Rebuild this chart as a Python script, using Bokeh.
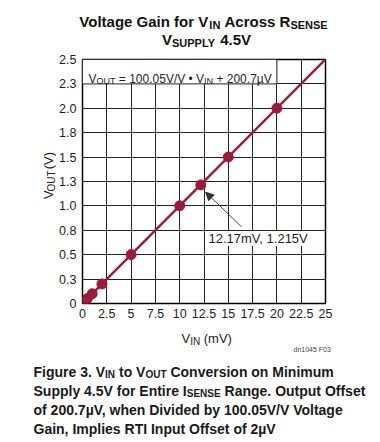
from math import pi
from bokeh.plotting import figure
from bokeh.layouts import column, row
from bokeh.models import Range1d, FixedTicker, Arrow, NormalHead
from bokeh.core.properties import value
from bokeh.embed import file_html
from bokeh.resources import INLINE

# ---------------- data ----------------
vin_mv = [0.1, 0.5, 1.0, 2.0, 5.0, 10.0, 12.17, 15.0, 20.0]
vout_v = [0.010, 0.050, 0.100, 0.200, 0.501, 1.001, 1.215, 1.501, 2.001]
fit_vin = [0.0, 25.0]
fit_vout = [0.0002, 2.5015]
x_ticks = [0, 2.5, 5, 7.5, 10, 12.5, 15, 17.5, 20, 22.5, 25]
x_tick_labels = ["0", "2.5", "5", "7.5", "10", "12.5", "15", "17.5", "20", "22.5", "25"]
y_ticks = [0, 0.25, 0.5, 0.75, 1.0, 1.25, 1.5, 1.75, 2.0, 2.25, 2.5]
y_tick_labels = ["0", "0.3", "0.5", "0.8", "1.0", "1.3", "1.5", "1.8", "2.0", "2.3", "2.5"]
highlight_vin = 12.17
highlight_vout = 1.215
eq_box_vin = [0, 20]
eq_box_vout = [2.25, 2.5]

RED = "#9b1b3b"
INK = "#1e1e1e"
FONT = "Liberation Sans"
NBSP = "\u00a0"

# page geometry (pixels)
PAGE_W, PAGE_H = 380, 442
TITLE_H = 48
MID_H = 278
YLAB_W = 56
FL, FT, FW, FH = 82.0, 59.0, 243.0, 244.0   # frame in page pixels
XMAX, YMAX = 25.0, 2.5

# Helvetica / Arial advance widths (per 1000 em)
REG = {' ': 278, NBSP: 278, '(': 333, ')': 333, '+': 584, ',': 278, '.': 278, '/': 278,
       '=': 584, '•': 350, 'µ': 556}
BOLD = {' ': 278, NBSP: 278, '(': 333, ')': 333, ',': 278, '.': 278, '/': 278, 'µ': 611}
for d in "0123456789":
    REG[d] = 556
    BOLD[d] = 556
REG.update(dict(zip("ABCDEFGHIJKLMNOPQRSTUVWXYZ",
                    [667, 667, 722, 722, 667, 611, 778, 722, 278, 500, 667, 556, 833, 722, 778,
                     667, 778, 722, 667, 611, 722, 667, 944, 667, 667, 611])))
REG.update(dict(zip("abcdefghijklmnopqrstuvwxyz",
                    [556, 556, 500, 556, 556, 278, 556, 556, 222, 222, 500, 222, 833, 556, 556,
                     556, 556, 333, 500, 278, 556, 500, 722, 500, 500, 500])))
BOLD.update(dict(zip("ABCDEFGHIJKLMNOPQRSTUVWXYZ",
                     [722, 722, 722, 722, 667, 611, 778, 722, 278, 556, 722, 611, 833, 722, 778,
                      667, 778, 722, 667, 611, 722, 667, 944, 667, 667, 611])))
BOLD.update(dict(zip("abcdefghijklmnopqrstuvwxyz",
                     [556, 611, 556, 611, 556, 333, 611, 611, 278, 278, 556, 278, 889, 611, 611,
                      611, 611, 389, 556, 333, 611, 556, 778, 556, 556, 500])))


def width(s, size, bold):
    t = BOLD if bold else REG
    return sum(t.get(c, 556) for c in s) / 1000.0 * size


def canvas(w, h):
    f = figure(width=w, height=h, x_range=Range1d(0, w), y_range=Range1d(0, h),
               output_backend="svg", toolbar_location=None,
               x_axis_location=None, y_axis_location=None,
               min_border_left=0, min_border_right=0, min_border_top=0, min_border_bottom=0)
    f.grid.visible = False
    f.outline_line_color = None
    f.background_fill_color = "white"
    f.border_fill_color = "white"
    return f


title_fig = canvas(PAGE_W, TITLE_H)
ylab_fig = canvas(YLAB_W, MID_H)
cap_fig = canvas(PAGE_W, PAGE_H - TITLE_H - MID_H)

# page pixel -> coordinates of each canvas
title_map = (lambda px: px, lambda py: TITLE_H - py)
ylab_map = (lambda px: px, lambda py: MID_H - (py - TITLE_H))
cap_map = (lambda px: px, lambda py: (PAGE_H - TITLE_H - MID_H) - (py - TITLE_H - MID_H))
main_map = (lambda px: (px - FL) / FW * XMAX, lambda py: (FT + FH - py) / FH * YMAX)

# ---------------- main chart ----------------
p = figure(width=PAGE_W - YLAB_W, height=MID_H, x_range=Range1d(0, XMAX), y_range=Range1d(0, YMAX),
           output_backend="svg", toolbar_location=None,
           min_border_left=int(FL - YLAB_W), min_border_right=int(PAGE_W - FL - FW),
           min_border_top=int(FT - TITLE_H), min_border_bottom=int(TITLE_H + MID_H - FT - FH))
p.background_fill_color = "white"
p.border_fill_color = "white"
p.outline_line_color = "black"
p.outline_line_width = 1.5

p.xaxis.ticker = FixedTicker(ticks=x_ticks)
p.yaxis.ticker = FixedTicker(ticks=y_ticks)
p.xaxis.major_label_overrides = dict(zip(x_ticks, x_tick_labels))
p.yaxis.major_label_overrides = dict(zip(y_ticks, y_tick_labels))
for ax in (p.xaxis, p.yaxis):
    ax.axis_line_color = None
    ax.major_tick_line_color = None
    ax.minor_tick_line_color = None
    ax.major_tick_out = 0
    ax.major_tick_in = 0
    ax.minor_tick_out = 0
    ax.minor_tick_in = 0
    ax.major_label_text_font = FONT
    ax.major_label_text_font_size = "12.5px"
    ax.major_label_text_color = INK
p.yaxis.major_label_standoff = 6
p.xaxis.major_label_standoff = 5
p.xgrid.grid_line_color = "#222222"
p.ygrid.grid_line_color = "#222222"
p.xgrid.grid_line_alpha = 1
p.ygrid.grid_line_alpha = 1

p.quad(left=[eq_box_vin[0]], right=[eq_box_vin[1]], bottom=[eq_box_vout[0]], top=[eq_box_vout[1]],
       fill_color="white", line_color="#222222", line_width=1)
p.line(fit_vin, fit_vout, line_color=RED, line_width=2.5)
p.scatter(vin_mv, vout_v, size=10, fill_color=RED, line_color=RED)

p.add_layout(Arrow(end=NormalHead(size=8, fill_color="#333333", line_color="#333333", line_width=1),
                   x_start=highlight_vin + 4.2, y_start=highlight_vout - 0.43,
                   x_end=highlight_vin + 0.5, y_end=highlight_vout - 0.075,
                   line_color="#444444", line_width=1))


def run(fig, mapping, pieces, x0, base, size, bold, color=INK, angle=0.0, center=False, bg=None):
    fx, fy = mapping
    subsize = round(size * 0.74)
    sizes = [subsize if sub else size for _, sub in pieces]
    total = sum(width(t, s, bold) for (t, _), s in zip(pieces, sizes))
    x = x0 - total / 2 if center else x0
    for (txt, sub), fs in zip(pieces, sizes):
        txt = txt.replace(" ", NBSP)
        off = size * 0.22 if sub else 0.0
        if angle == 0:
            px, py = x, base + off
        else:
            px, py = base + off, x
        fig.text(x=[fx(px)], y=[fy(py)], text=[txt], text_font=value(FONT),
                 text_font_size=value(f"{fs}px"),
                 text_font_style="bold" if bold else "normal",
                 text_color=color, text_baseline="alphabetic", text_align="left", angle=angle,
                 background_fill_color=bg)
        w = width(txt, fs, bold)
        x = x + w if angle == 0 else x - w


# title
run(title_fig, title_map, [("Voltage Gain for V", 0), ("IN", 1), (" Across R", 0), ("SENSE", 1)],
    203, 21, 15, True, "#111111", center=True)
run(title_fig, title_map, [("V", 0), ("SUPPLY", 1), (" 4.5V", 0)], 206, 39, 15, True, "#111111",
    center=True)

# equation in the box and point annotation
run(p, main_map, [("V", 0), ("OUT", 1), (" = 100.05V/V • V", 0), ("IN", 1), (" + 200.7µV", 0)],
    88, 78, 12, False)
run(p, main_map, [("12.17mV, 1.215V", 0)], 208, 238, 13, False, bg="white")

# axis labels
run(ylab_fig, ylab_map, [("V", 0), ("OUT", 1), (" (V)", 0)], 207, 48, 13, False, angle=pi / 2)
run(cap_fig, cap_map, [("V", 0), ("IN", 1), (" (mV)", 0)], 181, 338, 13, False)

# figure id
run(cap_fig, cap_map, [("dn1045 F03", 0)], 293, 349, 7, False, "#444444")

# caption
cap = [
    [("Figure 3. V", 0), ("IN", 1), (" to V", 0), ("OUT", 1), (" Conversion on Minimum", 0)],
    [("Supply 4.5V for Entire I", 0), ("SENSE", 1), (" Range. Output Offset", 0)],
    [("of 200.7µV, when Divided by 100.05V/V Voltage", 0)],
    [("Gain, Implies RTI Input Offset of 2µV", 0)],
]
for i, line in enumerate(cap):
    run(cap_fig, cap_map, line, 33, 371 + i * 19, 14, True, "#1a1a1a")

layout = column(title_fig, row(ylab_fig, p), cap_fig)
open("out.html", "w").write(file_html(layout, INLINE))
